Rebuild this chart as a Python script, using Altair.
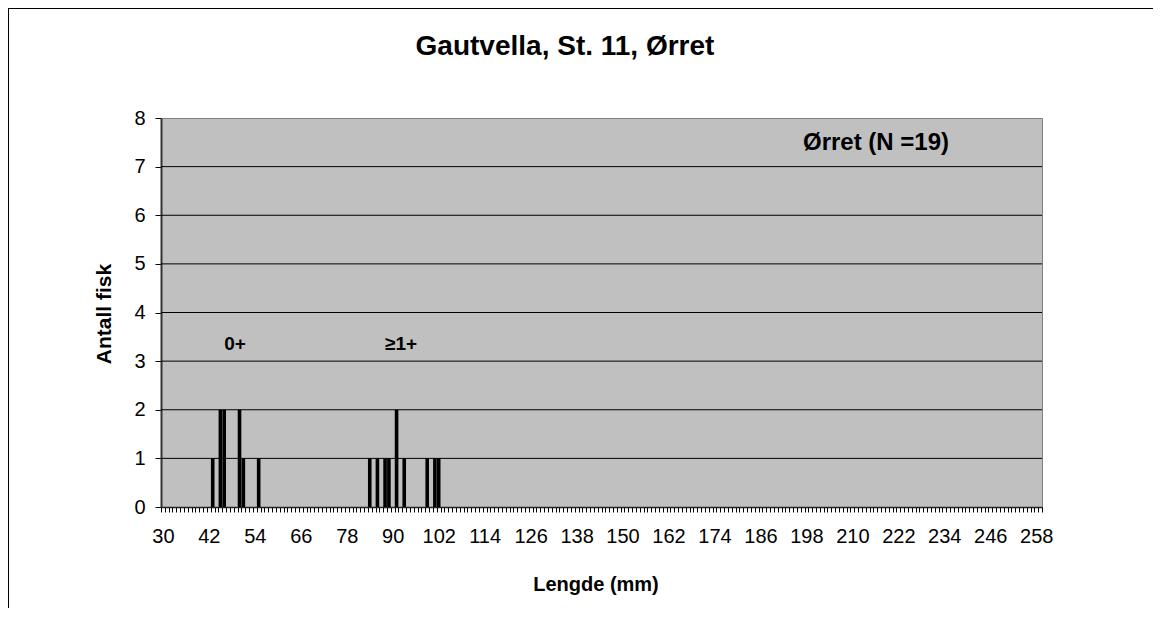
import altair as alt
import pandas as pd

# ---- data ----
lengths = [43, 45, 46, 50, 51, 55, 84, 86, 88, 89, 91, 93, 99, 101, 102]
counts = [1, 2, 2, 2, 1, 1, 1, 1, 1, 1, 2, 1, 1, 1, 1]
x_labels = [30, 42, 54, 66, 78, 90, 102, 114, 126, 138, 150, 162, 174, 186,
            198, 210, 222, 234, 246, 258]
x_first, x_last = 30, 259          # category range (1 mm classes)
y_ticks = [0, 1, 2, 3, 4, 5, 6, 7, 8]
y_grid = [1, 2, 3, 4, 5, 6, 7]

FONT = "Liberation Sans"

bars_df = pd.DataFrame({"lengde": lengths, "antall": counts})
x_ticks = [v - 0.5 for v in range(x_first, x_last + 2)]  # class boundaries

xscale = alt.Scale(domain=[x_first - 0.5, x_last + 0.5], nice=False, zero=False)
yscale = alt.Scale(domain=[0, 8], nice=False, zero=True)

label_list = "[" + ",".join(str(v) for v in x_labels) + "]"

x_axis = alt.Axis(
    values=x_ticks,
    labelExpr=f"indexof({label_list}, datum.value + 0.5) >= 0 ? format(datum.value + 0.5, 'd') : ''",
    labelOffset=1.9,
    labelOverlap=False,
    labelFlush=False,
    labelBound=False,
    tickSize=5,
    tickColor="#000000",
    tickWidth=1,
    domainColor="#222222",
    domainWidth=1.5,
    labelFont=FONT,
    labelFontSize=20,
    labelColor="#000000",
    labelPadding=14,
    grid=False,
    title=None,
)

y_axis = alt.Axis(
    values=y_ticks,
    tickSize=6,
    tickColor="#000000",
    domainColor="#333333",
    domainWidth=2,
    labelFont=FONT,
    labelFontSize=20,
    labelColor="#000000",
    labelPadding=10,
    grid=False,
    title=None,
)

grid = alt.Chart(pd.DataFrame({"y": y_grid})).mark_rule(
    color="#000000", strokeWidth=1
).encode(y=alt.Y("y:Q", scale=yscale, axis=y_axis))

bars = alt.Chart(bars_df).transform_calculate(
    x0="datum.lengde - 0.47", x1="datum.lengde + 0.47"
).mark_bar(color="#000000").encode(
    x=alt.X("x0:Q", scale=xscale, axis=x_axis),
    x2="x1:Q",
    y=alt.Y("antall:Q", scale=yscale, axis=y_axis),
    y2=alt.datum(0),
)

def txt(s, x, y, size, angle=0):
    kw = dict(text=s, font=FONT, fontSize=size, fontWeight="bold",
              color="#000000", align="center", baseline="middle")
    if angle:
        kw["angle"] = angle
    return alt.Chart().mark_text(**kw).encode(x=alt.value(x), y=alt.value(y))

title = txt("Gautvella, St. 11, Ørret", 404, -71, 28)
legend = txt("Ørret (N =19)", 715, 25, 24)
lab0 = txt("0+", 74, 226, 19)
lab1 = txt("≥1+", 240, 226, 19)
ytitle = txt("Antall fisk", -56, 196, 21, angle=270)
xtitle = txt("Lengde (mm)", 435, 467, 20)

border_left = alt.Chart().mark_rule(color="#000000", strokeWidth=1).encode(
    x=alt.value(-152.5), y=alt.value(-110), y2=alt.value(500)
)
border_top = alt.Chart().mark_rule(color="#000000", strokeWidth=1).encode(
    x=alt.value(-153), x2=alt.value(992), y=alt.value(-109.5)
)

chart = alt.layer(
    grid, bars, title, legend, lab0, lab1, ytitle, xtitle, border_left, border_top
).properties(
    width=881,
    height=389,
    autosize=alt.AutoSizeParams(type="none"),
    padding={"left": 153, "top": 110, "right": 111, "bottom": 101},
    background="#ffffff",
).configure_view(
    fill="#C0C0C0", stroke="#808080", strokeWidth=1
)

chart.save("out.html", embed_options={"renderer": "svg", "actions": False})
